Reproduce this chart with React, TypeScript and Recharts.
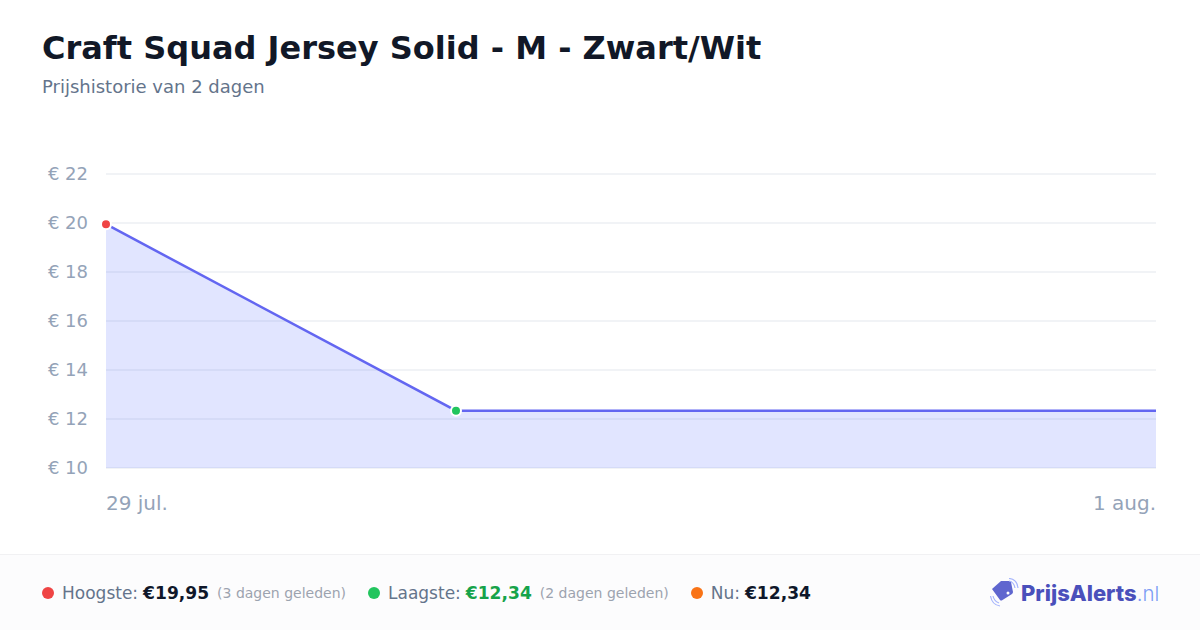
import React from "react";
import { AreaChart, Area, XAxis, YAxis, CartesianGrid } from "recharts";

// days since the first price point
const DAYS = [0, 1, 3];
const PRICES = [19.95, 12.34, 12.34];
const Y_TICKS = [10, 12, 14, 16, 18, 20, 22];
const X_TICKS = [0, 3];
const X_LABELS: Record<number, string> = { 0: "29 jul.", 3: "1 aug." };

const DOT_COLORS: Record<number, string> = { 0: "#ef4444", 1: "#22c55e" };

const chartData = DAYS.map((day, i) => ({ day, price: PRICES[i] }));

const FONT = "'DejaVu Sans', sans-serif";

function PriceDot(props: any) {
  const { cx, cy, index } = props;
  const color = DOT_COLORS[index];
  if (!color) return <g key={index} />;
  return <circle key={index} cx={cx} cy={cy} r={5} fill={color} stroke="#fff" strokeWidth={2} />;
}

function DateTick(props: any) {
  const { x, y, payload } = props;
  const first = payload.value === X_TICKS[0];
  return (
    <text
      x={x}
      y={y + 34}
      textAnchor={first ? "start" : "end"}
      fontSize={20}
      fontFamily={FONT}
      fill="#94a3b8"
    >
      {X_LABELS[payload.value]}
    </text>
  );
}

function Stat({
  color,
  label,
  value,
  valueColor = "#0f172a",
  note,
  gap,
}: {
  color: string;
  label: string;
  value: string;
  valueColor?: string;
  note?: string;
  gap: number;
}) {
  return (
    <div style={{ display: "flex", alignItems: "center", marginRight: gap }}>
      <span
        style={{
          width: 12,
          height: 12,
          borderRadius: "50%",
          backgroundColor: color,
          marginRight: 8,
        }}
      />
      <span style={{ fontSize: 17, color: "#64748b" }}>{label}</span>
      <span style={{ fontSize: 17.1, fontWeight: 700, color: valueColor, marginLeft: 5 }}>{value}</span>
      {note && <span style={{ fontSize: 14, color: "#9ca3af", marginLeft: 8 }}>{note}</span>}
    </div>
  );
}

function Logo() {
  return (
    <div style={{ position: "absolute", left: 990, top: 578, display: "flex", alignItems: "center" }}>
      <svg width={30} height={30} viewBox="0 0 30 30" style={{ display: "block" }}>
        <path d="M11 3 L2 11 L10 22 Q11 23 12.5 22 L22 16 Q23 15 23 14 L21 4 Q21 3 20 3 Z" fill="#5f66cf" />
        <circle cx="18" cy="15" r="1.5" fill="#fff" />
        <path d="M19 3 Q24 4 25 10" fill="none" stroke="#a5b4fc" strokeWidth={1.2} />
        <path d="M19 0.5 Q27 1 28 10" fill="none" stroke="#a5b4fc" strokeWidth={1.2} />
        <path d="M3 18 Q4 23 9 25" fill="none" stroke="#a5b4fc" strokeWidth={1.2} />
        <path d="M0.5 18 Q2 27 10 28" fill="none" stroke="#a5b4fc" strokeWidth={1.2} />
      </svg>
      <span style={{ fontFamily: "Inter, sans-serif", fontSize: 22, fontWeight: 800, color: "#4a50bb", marginLeft: 1 }}>
        PrijsAlerts
      </span>
      <span style={{ fontFamily: "Inter, sans-serif", fontSize: 20.5, fontWeight: 300, color: "#7c9cf5" }}>.nl</span>
    </div>
  );
}

export default function App() {
  return (
    <div
      style={{
        position: "fixed",
        left: 0,
        top: 0,
        width: 1200,
        height: 630,
        background: "#fff",
        fontFamily: FONT,
        overflow: "hidden",
      }}
    >
      <div style={{ position: "absolute", left: 42, top: 29, fontSize: 32, fontWeight: 700, color: "#111827", whiteSpace: "nowrap" }}>
        Craft Squad Jersey Solid - M - Zwart/Wit
      </div>
      <div style={{ position: "absolute", left: 42, top: 76, fontSize: 18, color: "#64748b", whiteSpace: "nowrap" }}>
        Prijshistorie van 2 dagen
      </div>

      <div style={{ position: "absolute", left: 0, top: 0 }}>
        <AreaChart
          width={1200}
          height={530}
          data={chartData}
          margin={{ top: 174, right: 44, left: 0, bottom: 0 }}
        >
          <CartesianGrid vertical={false} stroke="#f1f3f6" strokeWidth={2} />
          <XAxis
            dataKey="day"
            type="number"
            domain={[0, 3]}
            ticks={X_TICKS}
            tick={<DateTick />}
            tickLine={false}
            axisLine={false}
            height={62}
            interval={0}
          />
          <YAxis
            type="number"
            domain={[10, 22]}
            ticks={Y_TICKS}
            width={106}
            tickFormatter={(v: number) => `€ ${v}`}
            tick={{ fontSize: 18, fontFamily: FONT, fill: "#94a3b8" }}
            tickLine={false}
            axisLine={false}
            tickMargin={12}
            interval={0}
          />
          <Area
            type="linear"
            dataKey="price"
            stroke="#6366f1"
            strokeWidth={2.5}
            fill="#6b7bff"
            fillOpacity={0.2}
            dot={<PriceDot />}
            activeDot={false}
            isAnimationActive={false}
          />
        </AreaChart>
      </div>

      <div
        style={{
          position: "absolute",
          left: 0,
          top: 554,
          width: 1200,
          height: 76,
          boxSizing: "border-box",
          background: "#fcfcfd",
          borderTop: "1px solid #f1f1f3",
          paddingLeft: 42,
          display: "flex",
          alignItems: "center",
        }}
      >
        <Stat color="#ef4444" label="Hoogste:" value="€19,95" note="(3 dagen geleden)" gap={22} />
        <Stat color="#22c55e" label="Laagste:" value="€12,34" valueColor="#16a34a" note="(2 dagen geleden)" gap={22} />
        <Stat color="#f97316" label="Nu:" value="€12,34" gap={0} />
      </div>
      <Logo />
    </div>
  );
}
